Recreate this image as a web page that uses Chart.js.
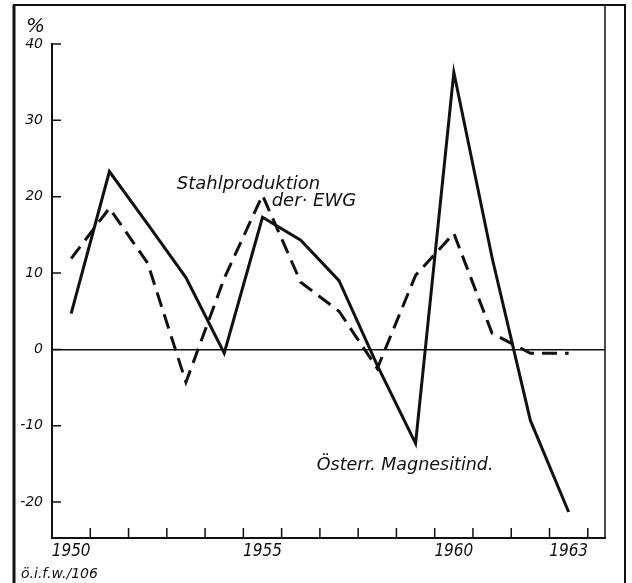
<!DOCTYPE html>
<html>
<head>
<meta charset="utf-8">
<style>
  html, body { margin: 0; padding: 0; background: #fff; }
  #wrap { width: 632px; height: 583px; }
</style>
</head>
<body>
<div id="wrap"><canvas id="chart" width="632" height="583"></canvas></div>
<script src="https://cdn.jsdelivr.net/npm/chart.js@4.4.1/dist/chart.umd.min.js"></script>
<script>
// yearly change in %
const years = [1950, 1951, 1952, 1953, 1954, 1955, 1956, 1957, 1958, 1959, 1960, 1961, 1962, 1963];
const magnesit = [4.7, 23.3, 16.4, 9.4, -0.5, 17.3, 14.3, 9.0, -2.1, -12.3, 36.3, 12.0, -9.3, -21.3];
const stahl = [11.9, 18.5, 11.3, -4.3, 9.3, 20.2, 8.8, 5.0, -2.5, 9.7, 15.2, 2.1, -0.5, -0.5];

const yTicks = [-20, -10, 0, 10, 20, 30, 40];
const xLabels = [1950, 1955, 1960, 1963];

const ink = "#111";
const font = '"DejaVu Sans", sans-serif';

function toPoints(values) {
  return years.map((yr, i) => ({ x: yr, y: values[i] }));
}

// frame, inner tick marks and the hand lettering
const framePlugin = {
  id: "frame",
  afterDraw(chart) {
    const { ctx, chartArea: a, scales } = chart;
    const x = scales.x;
    const y = scales.y;
    ctx.save();
    ctx.strokeStyle = ink;
    ctx.lineCap = "butt";

    // outer box
    ctx.lineWidth = 3;
    ctx.beginPath();
    ctx.moveTo(14, 583);
    ctx.lineTo(14, 5);
    ctx.stroke();
    ctx.lineWidth = 2;
    ctx.beginPath();
    ctx.moveTo(13, 5);
    ctx.lineTo(626, 5);
    ctx.moveTo(625, 5);
    ctx.lineTo(625, 583);
    ctx.stroke();

    // right edge of the plot runs up to the top of the box
    ctx.lineWidth = 1.5;
    ctx.beginPath();
    ctx.moveTo(a.right, 5);
    ctx.lineTo(a.right, a.bottom);
    ctx.stroke();

    // inward ticks
    ctx.lineWidth = 1.5;
    ctx.beginPath();
    yTicks.forEach((v) => {
      const py = y.getPixelForValue(v);
      ctx.moveTo(a.left, py);
      ctx.lineTo(a.left + 9, py);
    });
    years.forEach((yr) => {
      const px = x.getPixelForValue(yr + 0.5);
      ctx.moveTo(px, a.bottom);
      ctx.lineTo(px, a.bottom - 10);
    });
    ctx.stroke();

    // series labels
    ctx.fillStyle = ink;
    ctx.textBaseline = "alphabetic";
    ctx.textAlign = "left";
    ctx.font = "italic 18px " + font;
    ctx.fillText("Stahlproduktion", x.getPixelForValue(1952.76), y.getPixelForValue(21.0));
    ctx.fillText("der· EWG", x.getPixelForValue(1955.24), y.getPixelForValue(18.8));
    ctx.font = "italic 17.5px " + font;
    ctx.fillText("Österr. Magnesitind.", x.getPixelForValue(1956.42), y.getPixelForValue(-15.8));

    // unit and source note
    ctx.font = "italic 20px " + font;
    ctx.fillText("%", 26, 32);
    ctx.font = "italic 14px " + font;
    ctx.fillText("ö.i.f.w./106", 21, 578);
    ctx.restore();
  },
};

const ctx = document.getElementById("chart").getContext("2d");

const chart = new Chart(ctx, {
  type: "line",
  data: {
    datasets: [
      {
        label: "Österr. Magnesitind.",
        data: toPoints(magnesit),
        borderColor: ink,
        borderWidth: 3,
        pointRadius: 0,
        tension: 0,
      },
      {
        label: "Stahlproduktion der EWG",
        data: toPoints(stahl),
        borderColor: ink,
        borderWidth: 3,
        borderDash: [15, 8],
        pointRadius: 0,
        tension: 0,
      },
    ],
  },
  options: {
    responsive: false,
    animation: false,
    devicePixelRatio: 1,
    layout: { padding: { top: 44, right: 27, left: 0, bottom: 0 } },
    plugins: {
      legend: { display: false },
      tooltip: { enabled: false },
    },
    scales: {
      x: {
        type: "linear",
        min: 1949.5,
        max: 1963.95,
        afterBuildTicks: (scale) => {
          scale.ticks = xLabels.map((v) => ({ value: v }));
        },
        afterFit: (scale) => {
          scale.height = 45;
        },
        grid: { drawOnChartArea: false, drawTicks: false },
        border: { color: ink, width: 2 },
        ticks: {
          color: ink,
          padding: 3,
          maxRotation: 0,
          autoSkip: false,
          font: { family: '"DejaVu Sans Condensed", "DejaVu Sans"', size: 17, style: "italic" },
          callback: (v) => String(v),
        },
      },
      y: {
        min: -24.7,
        max: 40,
        afterBuildTicks: (scale) => {
          scale.ticks = yTicks.map((v) => ({ value: v }));
        },
        afterFit: (scale) => {
          scale.width = 52;
        },
        grid: {
          drawTicks: false,
          color: (c) => (c.tick && c.tick.value === 0 ? ink : "rgba(0,0,0,0)"),
          lineWidth: 1.5,
        },
        border: { color: ink, width: 2 },
        ticks: {
          color: ink,
          padding: 9,
          font: { family: font, size: 14, style: "italic" },
          callback: (v) => String(v),
        },
      },
    },
  },
  plugins: [framePlugin],
});
</script>
</body>
</html>
